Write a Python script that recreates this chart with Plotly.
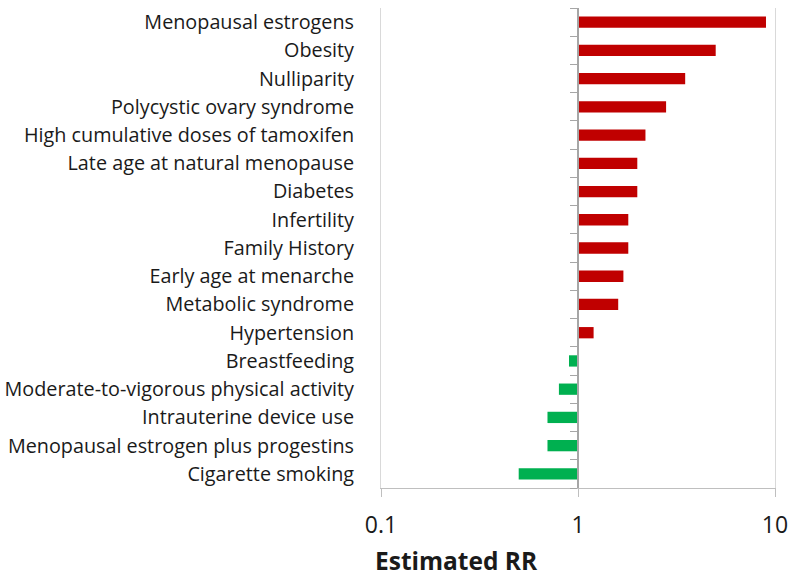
import plotly.graph_objects as go

categories = [
    "Menopausal estrogens",
    "Obesity",
    "Nulliparity",
    "Polycystic ovary syndrome",
    "High cumulative doses of tamoxifen",
    "Late age at natural menopause",
    "Diabetes",
    "Infertility",
    "Family History",
    "Early age at menarche",
    "Metabolic syndrome",
    "Hypertension",
    "Breastfeeding",
    "Moderate-to-vigorous physical activity",
    "Intrauterine device use",
    "Menopausal estrogen plus progestins",
    "Cigarette smoking",
]
rr_values = [9.0, 5.0, 3.5, 2.8, 2.2, 2.0, 2.0, 1.8, 1.8, 1.7, 1.6, 1.2,
             0.9, 0.8, 0.7, 0.7, 0.5]
x_tick_vals = [0.1, 1, 10]
x_tick_text = ["0.1", "1", "10"]

RED = "#C00000"
GREEN = "#00B050"
FONT = "Open Sans"

n = len(categories)
colors = [RED if v >= 1 else GREEN for v in rr_values]

fig = go.Figure()
fig.add_trace(go.Bar(
    y=categories,
    x=[v - 1 for v in rr_values],
    base=1,
    orientation="h",
    width=0.4,
    marker=dict(color=colors, line=dict(width=0)),
    showlegend=False,
    hoverinfo="skip",
))
# invisible helper trace so the category-boundary axis at RR = 1 gets drawn
fig.add_trace(go.Scatter(
    x=[1, 1], y=[-0.5, n - 0.5], yaxis="y2", mode="lines",
    line=dict(width=0), opacity=0, showlegend=False, hoverinfo="skip",
))

fig.update_layout(
    width=800, height=576,
    margin=dict(l=381, r=25, t=8, b=88, autoexpand=False),
    paper_bgcolor="white", plot_bgcolor="white",
    font=dict(family=FONT, color="#1a1a1a"),
    hovermode=False,
    xaxis=dict(
        type="log", range=[-1, 1], automargin=False,
        tickvals=x_tick_vals, ticktext=x_tick_text,
        showgrid=True, gridcolor="#D9D9D9", gridwidth=1,
        showline=True, linecolor="#BFBFBF", linewidth=1,
        ticks="outside", ticklen=8, tickcolor="#BFBFBF",
        tickfont=dict(size=23, family=FONT, color="#1a1a1a"),
        ticklabelstandoff=8,
        zeroline=False,
    ),
    yaxis=dict(
        type="category", automargin=False,
        categoryorder="array", categoryarray=categories,
        range=[n - 0.5, -0.5],
        showgrid=False, ticks="",
        showline=True, mirror=True, linecolor="#D9D9D9", linewidth=1,
        tickfont=dict(size=19.8, family=FONT, color="#1a1a1a"),
        ticklabelstandoff=22,
    ),
    yaxis2=dict(
        type="linear", automargin=False,
        overlaying="y", anchor="free", position=0.5, side="left",
        range=[n - 0.5, -0.5],
        tickmode="array",
        tickvals=[i - 0.5 for i in range(n + 1)],
        showticklabels=False, showgrid=False, zeroline=False,
        showline=True, linecolor="#A6A6A6", linewidth=1.5,
        ticks="outside", ticklen=7, tickcolor="#A6A6A6", tickwidth=1,
    ),
    annotations=[dict(
        text="<b>Estimated RR</b>", xref="paper", yref="paper",
        x=-0.02, y=-0.15, xanchor="left", yanchor="middle",
        showarrow=False, font=dict(size=24.5, family=FONT, color="#1a1a1a"),
    )],
)

fig.write_html("out.html", config={"displayModeBar": False},
               post_script="document.body.style.margin='0';")
